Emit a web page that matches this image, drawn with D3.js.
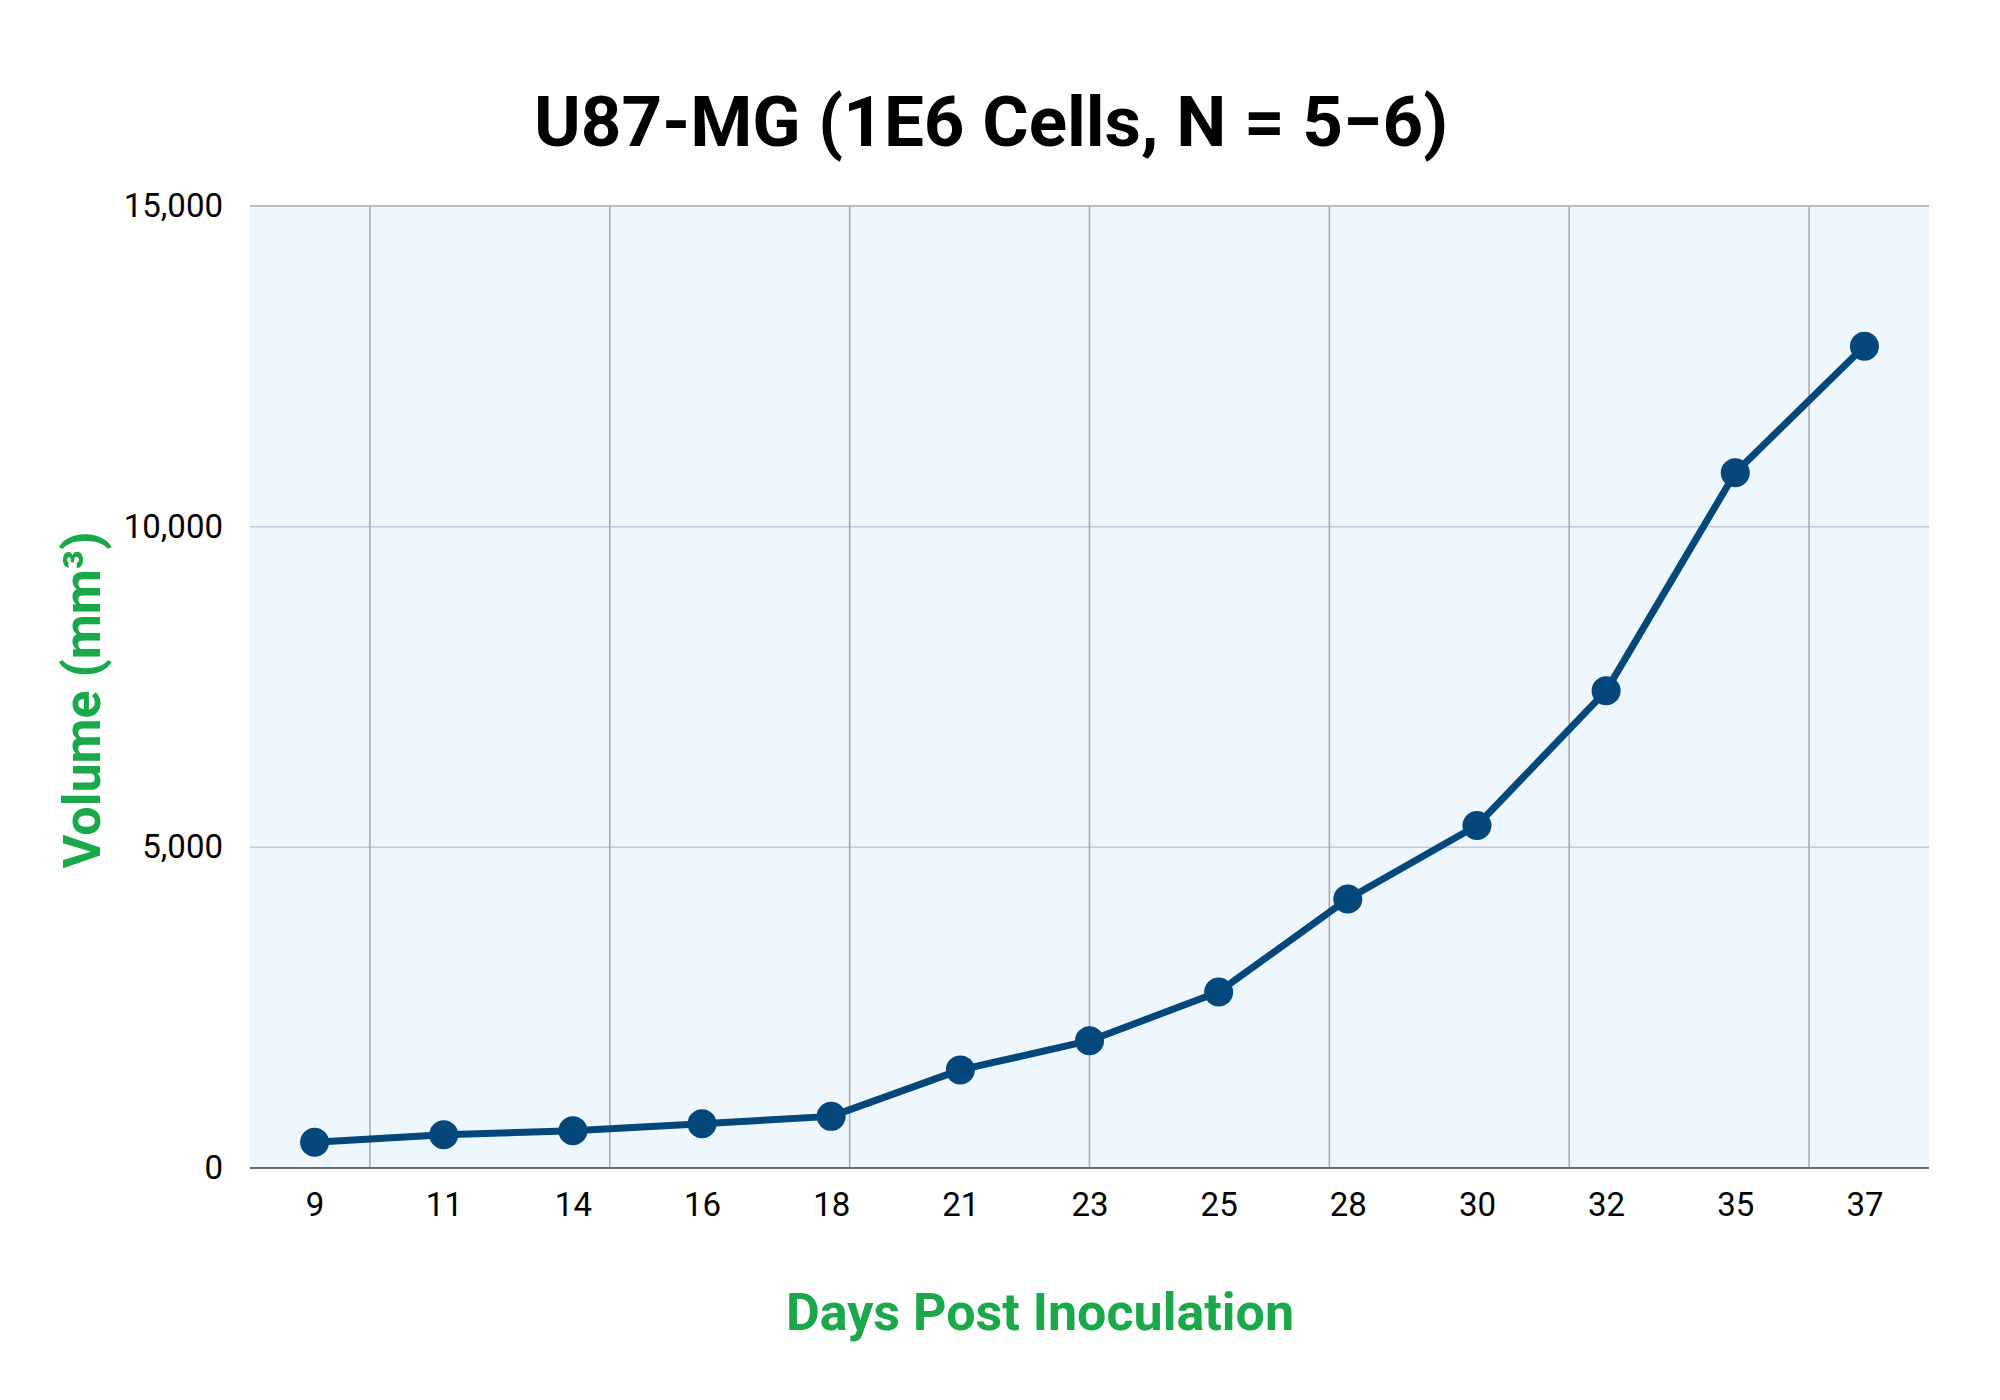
<!DOCTYPE html>
<html>
<head>
<meta charset="utf-8">
<script src="https://cdn.jsdelivr.net/npm/d3@7"></script>
<style>
  html, body { margin: 0; padding: 0; background: #ffffff; }
  svg { display: block; font-family: Roboto, "Noto Sans", sans-serif; }
</style>
</head>
<body>
<svg id="chart" width="2000" height="1400"></svg>
<script>
// ---- data ----
const days = ["9", "11", "14", "16", "18", "21", "23", "25", "28", "30", "32", "35", "37"];
const volumes = [400, 520, 580, 690, 805, 1530, 1985, 2745, 4195, 5340, 7440, 10840, 12815];
const yTicks = [0, 5000, 10000, 15000];
const gridBands = ["g1", "g2", "g3", "g4", "g5", "g6", "g7"];
const titleText = "U87-MG (1E6 Cells, N = 5\u22126)";
const xLabel = "Days Post Inoculation";
const yLabel = "Volume (mm\u00B3)";

// ---- layout ----
const W = 2000, H = 1400;
const plot = { left: 250, right: 1929, top: 206, bottom: 1168 };

const svg = d3.select("#chart");

const x = d3.scalePoint().domain(days).range([plot.left, plot.right]).padding(0.5);
const xGrid = d3.scalePoint().domain(gridBands).range([plot.left, plot.right]).padding(0.5);
const y = d3.scaleLinear().domain([0, 15000]).range([plot.bottom, plot.top]);

// background
svg.append("rect")
  .attr("x", plot.left).attr("y", plot.top)
  .attr("width", plot.right - plot.left).attr("height", plot.bottom - plot.top)
  .attr("fill", "#eef6fe");

// horizontal gridlines
svg.append("g").selectAll("line")
  .data(yTicks.filter(d => d > 0 && d < 15000))
  .join("line")
  .attr("x1", plot.left).attr("x2", plot.right)
  .attr("y1", d => y(d)).attr("y2", d => y(d))
  .attr("stroke", "#c3cad6").attr("stroke-width", 1.5);

// top border
svg.append("line")
  .attr("x1", plot.left).attr("x2", plot.right)
  .attr("y1", y(15000)).attr("y2", y(15000))
  .attr("stroke", "#bdbdbd").attr("stroke-width", 2);

// vertical gridlines
svg.append("g").selectAll("line")
  .data(gridBands)
  .join("line")
  .attr("x1", d => xGrid(d)).attr("x2", d => xGrid(d))
  .attr("y1", plot.top).attr("y2", plot.bottom)
  .attr("stroke", "#a4a8b0").attr("stroke-width", 1.5);

// x axis
const xAxis = d3.axisBottom(x).tickSize(0).tickPadding(0);
const gx = svg.append("g").attr("transform", `translate(0,${plot.bottom})`).call(xAxis);
gx.select(".domain").attr("stroke", "#6b6b6b").attr("stroke-width", 2)
  .attr("d", `M${plot.left},0H${plot.right}`);
gx.selectAll("text")
  .attr("y", 48).attr("dy", null)
  .attr("font-size", 33).attr("font-family", "Roboto").attr("font-weight", 400)
  .attr("fill", "#000");

// y axis
const yAxis = d3.axisLeft(y).tickValues(yTicks).tickSize(0).tickPadding(27)
  .tickFormat(d3.format(","));
const gy = svg.append("g").attr("transform", `translate(${plot.left},0)`).call(yAxis);
gy.select(".domain").remove();
gy.selectAll("text")
  .attr("font-size", 33).attr("font-family", "Roboto").attr("font-weight", 400)
  .attr("fill", "#000");

// line
const pts = days.map((d, i) => ({ day: d, v: volumes[i] }));
svg.append("path")
  .datum(pts)
  .attr("fill", "none")
  .attr("stroke", "#03477b")
  .attr("stroke-width", 7)
  .attr("stroke-linejoin", "round")
  .attr("d", d3.line().x(d => x(d.day)).y(d => y(d.v)));

svg.append("g").selectAll("circle")
  .data(pts)
  .join("circle")
  .attr("cx", d => x(d.day)).attr("cy", d => y(d.v))
  .attr("r", 14.5)
  .attr("fill", "#03477b");

// title
svg.append("text")
  .attr("x", 991).attr("y", 146)
  .attr("text-anchor", "middle")
  .attr("font-size", 71).attr("font-weight", 700).attr("font-family", "Roboto")
  .attr("fill", "#000")
  .text(titleText);

// x label
svg.append("text")
  .attr("x", 1040).attr("y", 1330)
  .attr("text-anchor", "middle")
  .attr("font-size", 52).attr("font-weight", 700).attr("font-family", "Roboto")
  .attr("fill", "#1ba84b")
  .text(xLabel);

// y label
svg.append("text")
  .attr("transform", "translate(100,700) rotate(-90)")
  .attr("text-anchor", "middle")
  .attr("font-size", 52).attr("font-weight", 700).attr("font-family", "Roboto")
  .attr("fill", "#1ba84b")
  .text(yLabel);
</script>
</body>
</html>
